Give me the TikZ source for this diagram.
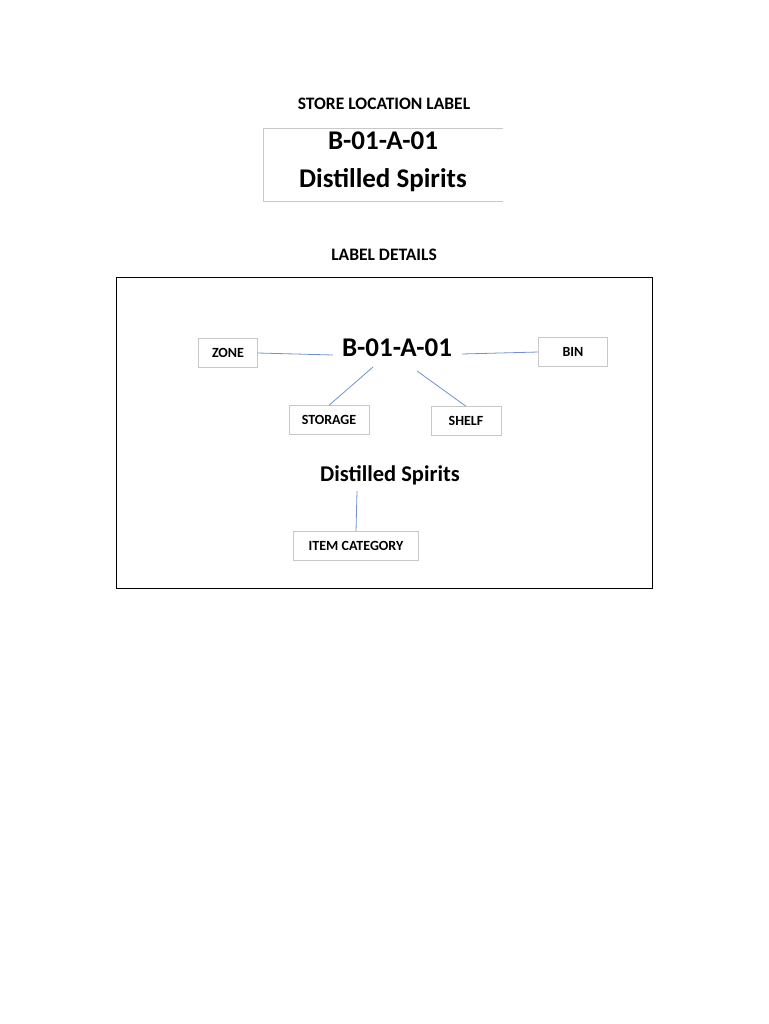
\documentclass[tikz,border=0pt]{standalone}
\usepackage{fontspec}
\setmainfont{Carlito}
\usetikzlibrary{positioning}
\definecolor{linkblue}{RGB}{112,146,204}
\definecolor{framegray}{RGB}{200,200,200}
\begin{document}
\begin{tikzpicture}[x=1pt,y=-1pt,
    head/.style={font=\bfseries\fontsize{17.5}{21}\selectfont},
    big/.style={font=\bfseries\fontsize{27}{32}\selectfont,inner sep=0pt},
    mid/.style={font=\bfseries\fontsize{22.5}{27}\selectfont,inner sep=0pt},
    field/.style={draw=framegray,fill=white,minimum width=#1,minimum height=29pt,
        inner sep=0pt,font=\bfseries\fontsize{14}{16}\selectfont},
    link/.style={draw=linkblue,line width=0.8pt}]
    \useasboundingbox (0,0) rectangle (768,1024);

    \node[head] (title) at (384,104) {STORE LOCATION LABEL};
    \draw[framegray,line width=0.8pt] (503,128) -- (263,128) -- (263,201) -- (503,201);
    \node[big] (code) at (383,141) {B-01-A-01};
    \node[big,below=18pt of code] (spirits) {Distilled Spirits};

    \node[head] (details) at (384,255) {LABEL DETAILS};
    \node[draw,line width=0.8pt,minimum width=536pt,minimum height=311pt] (panel) at (384,432.5) {};

    \node[big] (mcode) at (397,348) {B-01-A-01};
    \node[mid] (mspirits) at (390,475) {Distilled Spirits};

    \node[field=59pt] (zone) at (228,353) {ZONE};
    \node[field=69pt] (bin) at (573,352) {BIN};
    \node[field=80pt] (storage) at (329,420) {STORAGE};
    \node[field=70pt] (shelf) at (466,421) {SHELF};
    \node[field=125pt] (item) at (356,546) {ITEM CATEGORY};

    \coordinate (zoneend) at (333,355);
    \coordinate (binend) at (462,354);
    \coordinate (storageend) at (373,367);
    \coordinate (shelfend) at (417,371);
    \coordinate (itemend) at (357,491);

    \draw[link] (zone.east) -- (zoneend);
    \draw[link] (bin.west) -- (binend);
    \draw[link] (storage.north) -- (storageend);
    \draw[link] (shelf.north) -- (shelfend);
    \draw[link] (item.north) -- (itemend);
\end{tikzpicture}
\end{document}
